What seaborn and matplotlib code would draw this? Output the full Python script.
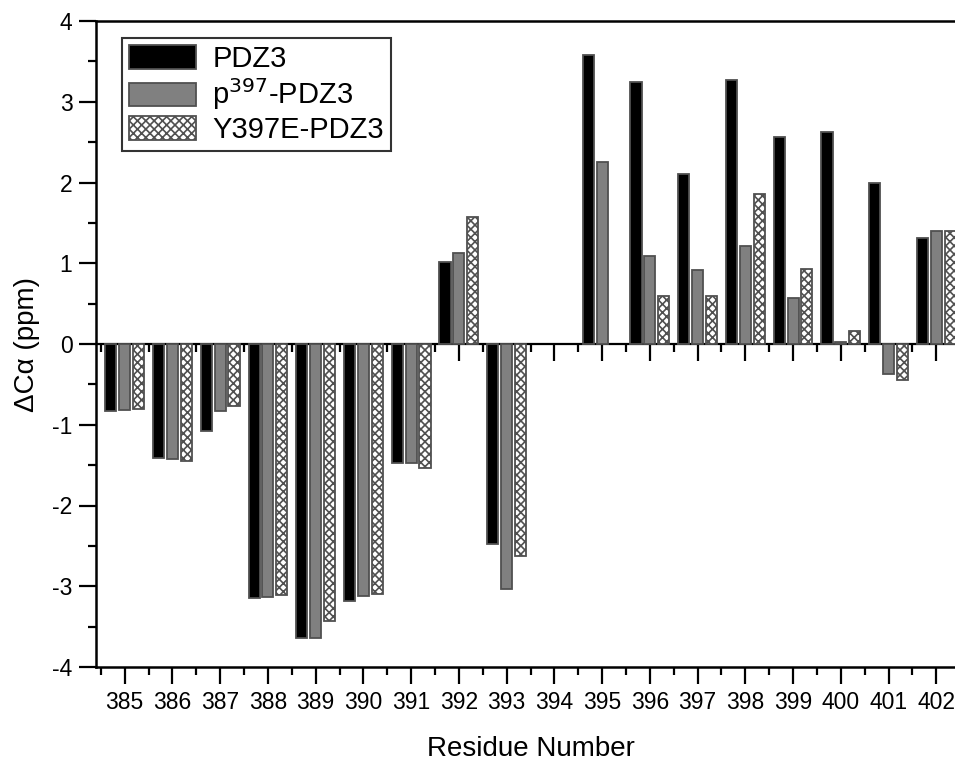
import pandas as pd
import matplotlib.pyplot as plt
import seaborn as sns
import numpy as np
from matplotlib.ticker import MultipleLocator

# residue numbers and the three data series (394 has no data)
residues = [385, 386, 387, 388, 389, 390, 391, 392, 393, 394,
            395, 396, 397, 398, 399, 400, 401, 402]
pdz3 = [-0.83, -1.41, -1.08, -3.14, -3.64, -3.18, -1.47, 1.01, -2.48, np.nan,
        3.58, 3.24, 2.11, 3.27, 2.56, 2.62, 1.99, 1.31]
p397 = [-0.82, -1.43, -0.83, -3.13, -3.64, -3.12, -1.47, 1.13, -3.04, np.nan,
        2.25, 1.09, 0.92, 1.21, 0.57, 0.03, -0.37, 1.40]
y397e = [-0.80, -1.45, -0.77, -3.11, -3.43, -3.09, -1.53, 1.57, -2.63, np.nan,
         np.nan, 0.59, 0.59, 1.86, 0.93, 0.16, -0.44, 1.40]

variants = ['PDZ3', 'p$^{397}$-PDZ3', 'Y397E-PDZ3']
fills = ['#000000', '#808080', '#ffffff']

sns.set_style("ticks")
plt.rcParams['font.family'] = ['Liberation Sans', 'DejaVu Sans']
plt.rcParams.update({
    'hatch.linewidth': 1.2,
    'axes.unicode_minus': False,
    'axes.edgecolor': 'black',
    'axes.labelcolor': 'black',
    'text.color': 'black',
    'xtick.color': 'black',
    'ytick.color': 'black',
})

df = pd.DataFrame({'Residue': [str(r) for r in residues],
                   variants[0]: pdz3, variants[1]: p397, variants[2]: y397e})
df = df.melt(id_vars='Residue', var_name='Variant', value_name='dCa').dropna()

fig = plt.figure(figsize=(9.55, 7.64), dpi=100)
W, H = 955, 764
ax = fig.add_axes([96 / W, (H - 667) / H, (965 - 96) / W, (667 - 21) / H])

sns.barplot(data=df, x='Residue', y='dCa', hue='Variant',
            order=[str(r) for r in residues], hue_order=variants,
            palette=dict(zip(variants, fills)), width=0.87, gap=0.2,
            edgecolor='#505050', linewidth=1.3, saturation=1,
            legend=False, ax=ax)

for patch in ax.containers[2]:
    patch.set_hatch('xxxx')
    patch.set_facecolor('white')

ax.set_xlim(-0.6, 17.6)
ax.set_ylim(-4, 4)
ax.yaxis.set_major_locator(MultipleLocator(1))
ax.yaxis.set_minor_locator(MultipleLocator(0.5))
ax.xaxis.set_minor_locator(MultipleLocator(0.5))

for s in ax.spines.values():
    s.set_linewidth(1.8)
ax.tick_params(which='major', direction='out', length=12, width=1.6,
               labelsize=16.5, pad=5)
ax.tick_params(which='minor', direction='out', length=6, width=1.6)

# zero line with its own ticks
zero = ax.secondary_xaxis(0, transform=ax.transData)
zero.set_xticks(range(len(residues)))
zero.xaxis.set_minor_locator(MultipleLocator(0.5))
zero.tick_params(which='major', direction='out', length=12, width=1.6,
                 labelbottom=False, labeltop=False)
zero.tick_params(which='minor', direction='out', length=6, width=1.6)
zero.spines['bottom'].set_linewidth(1.6)

ax.set_xlabel('Residue Number', fontsize=20, labelpad=16)
ax.set_ylabel('ΔCα (ppm)', fontsize=20, labelpad=9)

leg = ax.legend(list(ax.containers), variants, loc='upper left',
                bbox_to_anchor=(0.03, 0.974), borderaxespad=0,
                fontsize=21, handlelength=2.3, handleheight=0.85,
                handletextpad=0.55, labelspacing=0.12, borderpad=0.25,
                fancybox=False, frameon=True, edgecolor='black')
leg.get_frame().set_linewidth(1.5)

fig.savefig('out.png', dpi=100)
